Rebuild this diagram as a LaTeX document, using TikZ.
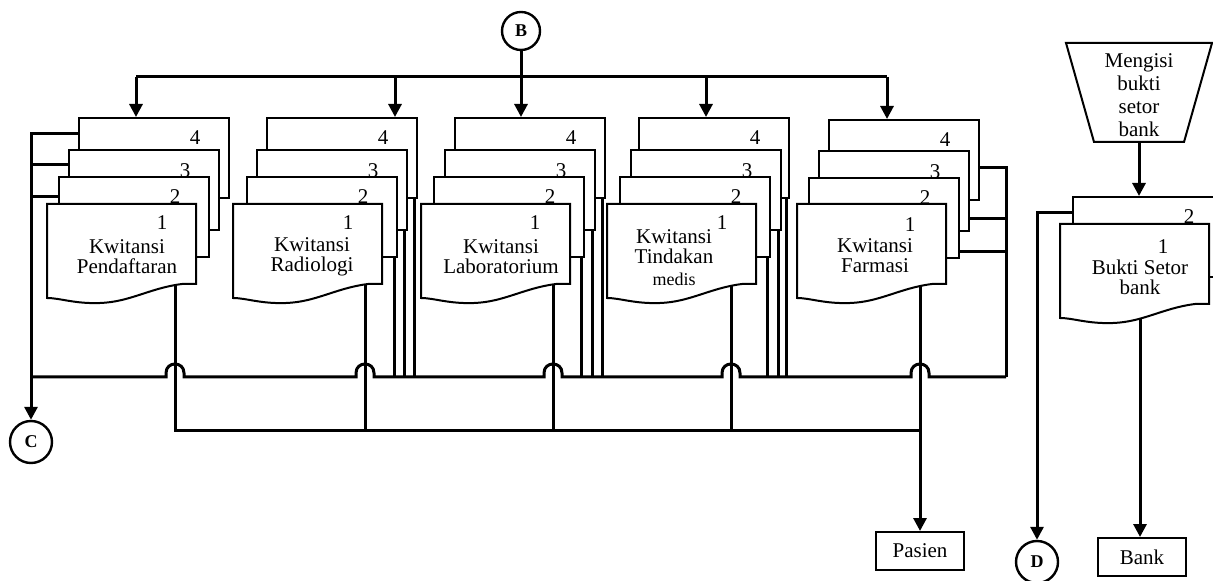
\documentclass[tikz,border=0pt]{standalone}
\usepackage{fontspec}
\setmainfont{Liberation Serif}
\usetikzlibrary{arrows.meta,calc}

\begin{document}
\begin{tikzpicture}[x=0.5pt, y=-0.5pt,
	salinan/.style = {draw, fill=white, line width=1pt, anchor=north west, minimum width=75pt, minimum height=40pt, inner sep=0pt},
	kotak/.style = {draw, fill=white, line width=1pt},
	nomor/.style = {font=\fontsize{10.5}{12}\selectfont, inner sep=0pt},
	teks/.style = {align=center, font=\fontsize{10.5}{10}\selectfont, inner sep=0pt},
	garis/.style = {line width=1.5pt},
	panah/.style = {line width=1.5pt, -{Triangle[length=6.5pt, width=6.5pt]}},
	konektor/.style = {draw, circle, line width=1.2pt, minimum size=21pt, inner sep=0pt, font=\bfseries\fontsize{9}{9}\selectfont},
	terminal/.style = {draw, fill=white, line width=1pt, minimum width=44pt, minimum height=19pt, inner sep=0pt, font=\fontsize{10.5}{12}\selectfont},
	dokumen/.pic = {\draw[kotak] (0,0) -- (149,0) -- (149,80) -- (135,80) .. controls (103,84) and (83,98) .. (53,99) .. controls (28,100) and (13,94) .. (0,94) -- cycle;}]
	\useasboundingbox (0,0) rectangle (1213,581);
	% Konektor
	\node[konektor, minimum size=19pt] (b) at (521,31) {B};
	\node[konektor] (c) at (31,442) {C};
	\node[konektor] (d) at (1037,562) {D};
	% Pendaftaran
	\node[salinan] (p4) at (78,117) {};
	\node[nomor] at ([shift={(-35,21)}]p4.north east) {4};
	\node[salinan] (p3) at (68,149) {};
	\node[nomor] at ([shift={(-35,22)}]p3.north east) {3};
	\node[salinan] (p2) at (58,176) {};
	\node[nomor] at ([shift={(-35,21)}]p2.north east) {2};
	\pic at (47,204) {dokumen};
	\node[nomor] (p1) at (162,223) {1};
	\node[teks] (pt) at (127,257) {Kwitansi\\Pendaftaran};
	% Radiologi
	\node[salinan] (r4) at (266,117) {};
	\node[nomor] at ([shift={(-35,21)}]r4.north east) {4};
	\node[salinan] (r3) at (256,149) {};
	\node[nomor] at ([shift={(-35,22)}]r3.north east) {3};
	\node[salinan] (r2) at (246,176) {};
	\node[nomor] at ([shift={(-35,21)}]r2.north east) {2};
	\pic at (233,204) {dokumen};
	\node[nomor] (r1) at (348,223) {1};
	\node[teks] (rt) at (312,257) {Kwitansi\\Radiologi};
	% Laboratorium
	\node[salinan] (l4) at (454,117) {};
	\node[nomor] at ([shift={(-35,21)}]l4.north east) {4};
	\node[salinan] (l3) at (444,149) {};
	\node[nomor] at ([shift={(-35,22)}]l3.north east) {3};
	\node[salinan] (l2) at (433,176) {};
	\node[nomor] at ([shift={(-35,21)}]l2.north east) {2};
	\pic at (421,204) {dokumen};
	\node[nomor] (l1) at (535,223) {1};
	\node[teks] (lt) at (501,257) {Kwitansi\\Laboratorium};
	% Tindakan medis
	\node[salinan] (t4) at (638,117) {};
	\node[nomor] at ([shift={(-35,21)}]t4.north east) {4};
	\node[salinan] (t3) at (630,149) {};
	\node[nomor] at ([shift={(-35,22)}]t3.north east) {3};
	\node[salinan] (t2) at (619,176) {};
	\node[nomor] at ([shift={(-35,21)}]t2.north east) {2};
	\pic at (607,204) {dokumen};
	\node[nomor] (t1) at (722,223) {1};
	\node[teks] (tt) at (674,258) {Kwitansi\\Tindakan\\[1pt]{\fontsize{9}{9}\selectfont medis}};
	% Farmasi
	\node[salinan] (f4) at (828,119) {};
	\node[nomor] at ([shift={(-35,21)}]f4.north east) {4};
	\node[salinan] (f3) at (818,150) {};
	\node[nomor] at ([shift={(-35,22)}]f3.north east) {3};
	\node[salinan] (f2) at (808,177) {};
	\node[nomor] at ([shift={(-35,21)}]f2.north east) {2};
	\pic at (797,204) {dokumen};
	\node[nomor] (f1) at (910,225) {1};
	\node[teks] (ft) at (875,256) {Kwitansi\\Farmasi};
	% Bukti setor bank
	\draw[kotak] (1066,43) -- (1212,43) -- (1184,142) -- (1094,142) -- cycle;
	\node[teks, font=\fontsize{10.5}{11.5}\selectfont] (mengisi) at (1139,95) {Mengisi\\bukti\\setor\\bank};
	\node[salinan] (bk2) at (1072,196) {};
	\node[nomor] at ([shift={(-35,21)}]bk2.north east) {2};
	\pic at (1060,224) {dokumen};
	\node[nomor] (bk1) at (1163,247) {1};
	\node[teks] (bkt) at (1140,277) {Bukti Setor\\bank};
	\node[terminal] (pasien) at (920,551) {Pasien};
	\node[terminal] (bank) at (1142,557) {Bank};
	% Titik bantu
	\coordinate (a1) at (136,77);
	\coordinate (a2) at (395,77);
	\coordinate (a4) at (706,77);
	\coordinate (a5) at (887,77);
	\coordinate (k1) at (175,285);
	\coordinate (k2) at (365,285);
	\coordinate (k3) at (553,285);
	\coordinate (k4) at (731,285);
	\coordinate (k5) at (920,285);
	\coordinate (kb) at (1140,319);
	\coordinate (kiri) at (31,377);
	\coordinate (kanan) at (1006,377);
	\coordinate (bawah) at (920,431);
	\coordinate (manual) at (1139,142);
	% Distribusi dari B
	\draw[garis] (a1) -- (a5);
	\draw[panah] (b) -- (b |- l4.north);
	\draw[panah] (a1) -- (a1 |- p4.north);
	\draw[panah] (a2) -- (a2 |- r4.north);
	\draw[panah] (a4) -- (a4 |- t4.north);
	\draw[panah] (a5) -- (a5 |- f4.north);
	% Lembar 2-4 ke C
	\draw[garis] (kiri) \foreach \k in {k1,k2,k3,k4,k5} { -- ($(kiri -| \k)+(-9,0)$) -- ++(0,-4) .. controls +(0,-12) and +(0,-12) .. ++(18,0) -- ++(0,4) } -- (kanan);
	\draw[panah] ([yshift=-8.5pt]p4.north west) -| (c);
	\draw[garis] ([yshift=-8pt]p3.north west) -- ([yshift=-8pt]p3.north west -| c);
	\draw[garis] ([yshift=-10.5pt]p2.north west) -- ([yshift=-10.5pt]p2.north west -| c);
	\draw[garis] ([xshift=-2pt]r4.south east) -- ([xshift=-2pt]r4.south east |- kiri);
	\draw[garis] ([xshift=-2pt]r3.south east) -- ([xshift=-2pt]r3.south east |- kiri);
	\draw[garis] ([xshift=-2pt]r2.south east) -- ([xshift=-2pt]r2.south east |- kiri);
	\draw[garis] ([xshift=-2pt]l4.south east) -- ([xshift=-2pt]l4.south east |- kiri);
	\draw[garis] ([xshift=-2pt]l3.south east) -- ([xshift=-2pt]l3.south east |- kiri);
	\draw[garis] ([xshift=-2pt]l2.south east) -- ([xshift=-2pt]l2.south east |- kiri);
	\draw[garis] ([xshift=-2pt]t4.south east) -- ([xshift=-2pt]t4.south east |- kiri);
	\draw[garis] ([xshift=-2pt]t3.south east) -- ([xshift=-2pt]t3.south east |- kiri);
	\draw[garis] ([xshift=-2pt]t2.south east) -- ([xshift=-2pt]t2.south east |- kiri);
	\draw[garis] ([yshift=16.5pt]f4.south east) -| (kanan);
	\draw[garis] ([yshift=6.5pt]f3.south east) -- ([yshift=6.5pt]f3.south east -| kanan);
	\draw[garis] ([yshift=3.5pt]f2.south east) -- ([yshift=3.5pt]f2.south east -| kanan);
	% Lembar 1 ke pasien
	\draw[garis] (k1) |- (bawah);
	\draw[garis] (k2) -- (k2 |- bawah);
	\draw[garis] (k3) -- (k3 |- bawah);
	\draw[garis] (k4) -- (k4 |- bawah);
	\draw[panah] (k5) -- (k5 |- pasien.north);
	% Bukti setor
	\draw[panah] (manual) -- (manual |- bk2.north);
	\draw[panah] ([yshift=-8.5pt]bk2.north west) -| (d);
	\draw[panah] (kb) -- (kb |- bank.north);
\end{tikzpicture}
\end{document}
